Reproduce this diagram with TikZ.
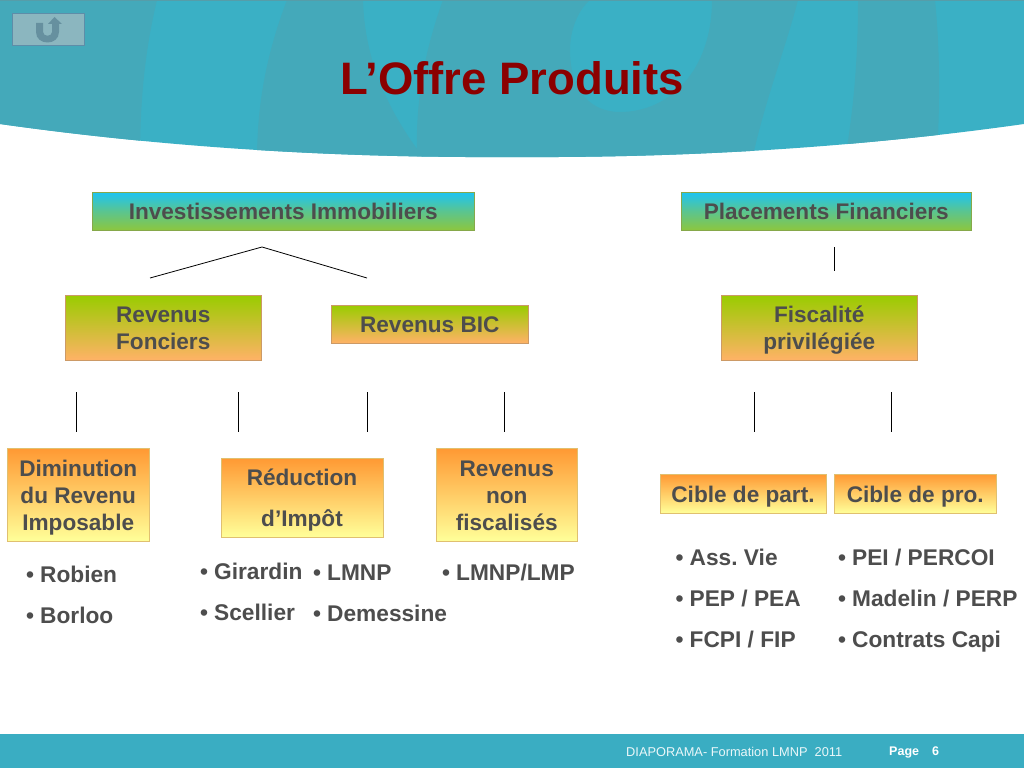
\documentclass[tikz,border=0pt]{standalone}
\usepackage{fontspec}
\setmainfont{Liberation Sans}
\frenchspacing
\definecolor{teal1}{HTML}{3AB0C5}
\definecolor{teal2}{HTML}{44A9BA}
\definecolor{foot}{HTML}{3AADC2}
\definecolor{ink}{HTML}{4D4D4D}
\definecolor{ttl}{HTML}{8B0000}
\definecolor{cA}{HTML}{1CC4F4}
\definecolor{cB}{HTML}{8CC63F}
\definecolor{cC}{HTML}{99CC00}
\definecolor{cD}{HTML}{FFB266}
\definecolor{cE}{HTML}{FF9933}
\definecolor{cF}{HTML}{FFFF99}
\definecolor{btnfill}{HTML}{8BB6BF}
\definecolor{btnline}{HTML}{5E8DA8}
\definecolor{btnarrow}{HTML}{66909F}
\definecolor{lineB}{HTML}{86A84A}
\definecolor{lineG}{HTML}{CC9A66}
\definecolor{lineO}{HTML}{E0C070}
\tikzset{
  x=1pt,y=-1pt,
  boxbase/.style={anchor=center,inner sep=0pt,text=ink,font=\fontsize{22.6}{27}\selectfont\bfseries,shading angle=0},
  blue box/.style={boxbase,draw=lineB,line width=.7pt,top color=cA,bottom color=cB,middle color=cB!55!cA},
  green box/.style={boxbase,draw=lineG,line width=.7pt,top color=cC,bottom color=cD},
  orange box/.style={boxbase,draw=lineO,line width=.7pt,top color=cE,bottom color=cF},
  item/.style={anchor=base west,inner sep=0pt,text=ink,font=\fontsize{22.7}{26}\selectfont\bfseries},
  link/.style={draw=black,line width=.8pt},
}
\newcommand{\boxat}[7]{\node[#1,minimum width=#4-#2,minimum height=#5-#3] (#6) at ({(#2+#4)/2},{(#3+#5)/2}) {\raisebox{-8.5pt}[0pt][0pt]{\begin{tabular}{@{}c@{}}#7\end{tabular}}};}
\begin{document}
\begin{tikzpicture}
\useasboundingbox (0,0) rectangle (1024,768);
\fill[white] (0,0) rectangle (1024,768);
% header
\begin{scope}
\clip (0,0) -- (0,124) .. controls (170,148) and (340,158) .. (512,157) .. controls (684,158) and (854,148) .. (1024,124) -- (1024,0) -- cycle;
\fill[teal1] (0,0) rectangle (1024,160);
\fill[teal2] (0,0) -- (157,0) .. controls (145,50) and (140,100) .. (140,160) -- (0,160) -- cycle;
\fill[teal2] (287,0) .. controls (268,50) and (257,100) .. (257,160) -- (425,160) .. controls (395,120) and (365,70) .. (363,0) -- cycle;
\fill[teal2] (443,0) .. controls (425,50) and (415,100) .. (417,160) -- (752,160) .. controls (765,100) and (785,50) .. (798,0) -- (712,0) .. controls (712,70) and (670,112) .. (620,112) .. controls (590,112) and (570,90) .. (570,50) .. controls (570,30) and (578,10) .. (590,0) -- cycle;
\fill[teal2] (858,0) .. controls (858,50) and (855,100) .. (845,160) -- (937,160) .. controls (940,100) and (940,50) .. (935,0) -- cycle;
\end{scope}
\fill[teal2!70!gray] (0,0) rectangle (1024,1);
% return button
\node[draw=btnline,fill=btnfill,line width=.9pt,minimum width=72,minimum height=32,inner sep=0pt] (back) at (48.5,29) {};
\fill[btnarrow] (36,23) -- (43,23) -- (43,32) .. controls (43,37) and (52,37) .. (52,32) -- (52,24) -- (48,24) -- (54.5,17) -- (62,24) -- (59,24) -- (59,32) .. controls (59,46) and (36,46) .. (36,32) -- cycle;
% title
\node[anchor=base,inner sep=0pt,text=ttl,font=\fontsize{45.5}{50}\selectfont\bfseries] (title) at (512,94) {L’Offre Produits};
% level 1
\boxat{blue box}{92.5}{192}{474}{230}{inv}{Investissements Immobiliers}
\boxat{blue box}{681.5}{192}{971}{230}{pla}{Placements Financiers}
% level 2
\boxat{green box}{65.5}{295}{261}{360}{fon}{Revenus\\Fonciers}
\boxat{green box}{331.5}{305}{528}{343}{bic}{Revenus BIC}
\boxat{green box}{721.5}{295}{917}{360}{fis}{Fiscalité\\privilégiée}
% level 3
\boxat{orange box}{7.5}{448}{149}{541}{dim}{Diminution\\du Revenu\\Imposable}
\boxat{orange box}{221}{458}{383}{537}{red}{Réduction\\[14.5pt]d’Impôt}
\boxat{orange box}{436.5}{448}{577}{541}{non}{Revenus\\non\\fiscalisés}
\boxat{orange box}{660}{474}{826}{513}{par}{Cible de part.}
\boxat{orange box}{834.5}{474}{996}{513}{pro}{Cible de pro.}
% connectors
\coordinate (t) at (262,247);
\coordinate (tl) at (150,278);
\coordinate (tr) at (367,278);
\draw[link] (tl) -- (t) -- (tr);
\coordinate (a1) at (834,247); \coordinate (a2) at (834,271);
\draw[link] (a1) -- (a2);
\foreach \n/\xx in {b/76.5,c/238,d/367,e/504,f/754,g/891} {
  \coordinate (\n1) at (\xx,392); \coordinate (\n2) at (\xx,432);
  \draw[link] (\n1) -- (\n2);
}
% lists
\newcommand{\bul}{\makebox[14pt][l]{•}}
\node[item] (i1) at (26,582) {\bul Robien};
\node[item] (i2) at (26,623) {\bul Borloo};
\node[item] (i3) at (200,579.5) {\bul Girardin};
\node[item] (i4) at (200,620.5) {\bul Scellier};
\node[item] (i5) at (313,580.5) {\bul LMNP};
\node[item] (i6) at (313,621.5) {\bul Demessine};
\node[item] (i7) at (442,580.5) {\bul LMNP/LMP};
\node[item] (i8) at (675.5,565) {\bul Ass. Vie};
\node[item] (i9) at (675.5,606) {\bul PEP / PEA};
\node[item] (i10) at (675.5,647) {\bul FCPI / FIP};
\node[item] (i11) at (838,565) {\bul PEI / PERCOI};
\node[item] (i12) at (838,606) {\bul Madelin / PERP};
\node[item] (i13) at (838,647) {\bul Contrats Capi};
% footer
\fill[foot] (0,734) rectangle (1024,768);
\node[anchor=base west,inner sep=0pt,text=white!90!teal1,font=\fontsize{12.8}{15}\selectfont] (ft) at (626,756) {DIAPORAMA- Formation LMNP\ \ 2011};
\node[anchor=base west,inner sep=0pt,text=white,font=\fontsize{12.5}{15}\selectfont\bfseries] (pg) at (889,755) {Page};
\node[anchor=base west,inner sep=0pt,text=white,font=\fontsize{12.5}{15}\selectfont\bfseries] (pn) at (932,755) {6};
\end{tikzpicture}
\end{document}
